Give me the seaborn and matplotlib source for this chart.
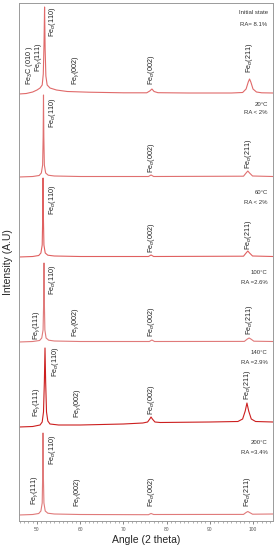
import matplotlib
matplotlib.use("Agg")
import matplotlib.pyplot as plt
import seaborn as sns
import pandas as pd
from matplotlib.ticker import MultipleLocator

# XRD patterns (angle 2theta, intensity above own baseline, A.U.)
initial_angle = [45.83, 47.5, 49.0, 50.0, 50.7, 51.2, 51.45, 51.62, 51.75, 51.88, 52.05, 52.35,
                 53.0, 54.5, 57.0, 62.0, 70.0, 75.4, 76.1, 76.6, 77.1, 78.0, 85.0, 95.0,
                 97.6, 98.4, 98.9, 99.2, 99.5, 100.0, 100.8, 102.0, 104.6]
initial_int = [0, 0.5, 2, 4, 6, 9, 20, 50, 87, 45, 18, 9,
               6, 4, 2.5, 1.8, 1.2, 1.2, 3, 5, 2.5, 1.3, 1, 1,
               1.5, 5, 12, 15, 12, 5, 2, 1.2, 1]

t20_angle = [45.83, 49.0, 50.5, 51.0, 51.3, 51.42, 51.5, 51.58, 51.7, 52.0, 52.6, 54.0, 60.0,
             75.8, 76.4, 77.0, 97.8, 98.4, 98.8, 99.2, 99.9, 104.6]
t20_int = [0, 0.5, 1.5, 4, 12, 40, 82, 40, 12, 4, 1.8, 1, 0.5,
           0.5, 2, 0.5, 0.8, 4, 6, 4, 1, 0.5]

t60_angle = [45.83, 49.0, 50.4, 50.9, 51.2, 51.32, 51.4, 51.48, 51.6, 51.9, 52.5, 54.0, 60.0,
             75.8, 76.4, 77.0, 97.8, 98.4, 98.8, 99.2, 99.9, 104.6]
t60_int = [0, 0.5, 1.5, 4, 12, 40, 79, 40, 12, 4, 1.8, 1, 0.5,
           0.5, 2, 0.5, 0.8, 4, 6, 4, 1, 0.5]

t100_angle = [45.83, 49.0, 50.6, 51.1, 51.4, 51.54, 51.62, 51.7, 51.82, 52.1, 52.7, 54.0, 60.0,
              76.0, 76.6, 77.2, 98.0, 98.7, 99.1, 99.5, 100.2, 104.6]
t100_int = [0, 0.5, 1.5, 4, 12, 40, 79, 40, 12, 4, 1.8, 1, 0.5,
            0.5, 2, 0.5, 0.6, 3, 4, 3, 0.8, 0.5]

t140_angle = [45.83, 49.0, 50.7, 51.2, 51.5, 51.7, 51.85, 52.0, 52.2, 52.5, 53.0, 55.0, 60.0,
              70.0, 74.5, 75.6, 76.1, 76.4, 76.7, 77.3, 78.5, 90.0, 96.5, 97.6, 98.2,
              98.6, 99.0, 99.6, 100.6, 104.6]
t140_int = [0, 0.5, 2, 5, 15, 45, 79, 45, 15, 6, 3, 2, 2,
            3, 4, 5, 8, 10, 8, 5, 4.5, 5, 5.5, 8, 16,
            24, 16, 8, 5.5, 5]

t200_angle = [45.83, 49.0, 50.4, 50.9, 51.2, 51.31, 51.39, 51.47, 51.6, 51.9, 52.5, 54.0, 60.0,
              75.8, 76.4, 77.0, 97.8, 98.4, 98.8, 99.2, 99.9, 104.6]
t200_int = [0, 0.5, 1.5, 4, 12, 40, 82, 40, 12, 4, 1.8, 1, 0.5,
            0.3, 1.5, 0.5, 0.6, 2.5, 3.5, 2.5, 0.8, 1]

samples = ["Initial", "20", "60", "100", "140", "200"]
offsets = [427, 344, 264, 179, 94, 6]
conditions = ["Initial state", "20°C", "60°C", "100°C", "140°C", "200°C"]
ra_values = ["RA= 8.1%", "RA < 2%", "RA < 2%", "RA =2.6%", "RA =2.9%", "RA =3.4%"]

patterns = [(initial_angle, initial_int), (t20_angle, t20_int), (t60_angle, t60_int),
            (t100_angle, t100_int), (t140_angle, t140_int), (t200_angle, t200_int)]

rows = []
for name, off, (ang, inten) in zip(samples, offsets, patterns):
    for a, i in zip(ang, inten):
        rows.append({"angle": a, "intensity": i + off, "sample": name})
df = pd.DataFrame(rows)

# peak labels per pattern: (text, angle, bottom of text)
A = r"Fe$_{\alpha}$"
G = r"Fe$_{\gamma}$"
peak_labels = [
    [(r"Fe$_3$C (010 )", 48.15, 436), (G + "(111)", 50.46, 449), (A + "(110)", 53.47, 484),
     (G + "(002)", 59.03, 436), (A + "(002)", 76.6, 436), (A + "(211)", 99.3, 448)],
    [(A + "(110)", 53.6, 393), (A + "(002)", 76.4, 348), (A + "(211)", 99.0, 352)],
    [(A + "(110)", 53.6, 306), (A + "(002)", 76.4, 268), (A + "(211)", 99.0, 271)],
    [(A + "(110)", 53.7, 226), (G + "(111)", 50.0, 181), (G + "(002)", 59.0, 184),
     (A + "(002)", 76.4, 184), (A + "(211)", 99.3, 186)],
    [(A + "(110)", 54.2, 144), (G + "(111)", 49.8, 104), (G + "(002)", 59.3, 103),
     (A + "(002)", 76.6, 106), (A + "(211)", 98.8, 121)],
    [(A + "(110)", 53.5, 56), (G + "(111)", 49.5, 16), (G + "(002)", 59.5, 14),
     (A + "(002)", 76.4, 14), (A + "(211)", 98.8, 14)],
]
cond_y = [(508, 496), (417, 408), (329, 319), (248, 238), (169, 159), (79, 69)]

sns.set_style("white")
plt.rcParams["font.family"] = ["Liberation Sans", "DejaVu Sans"]
plt.rcParams["mathtext.fontset"] = "custom"
plt.rcParams["mathtext.rm"] = "Liberation Sans"
plt.rcParams["mathtext.it"] = "Liberation Sans:italic"

fig = plt.figure(figsize=(2.79, 5.5), dpi=100)
ax = fig.add_axes([19 / 279, 1 - 521 / 550, 254 / 279, 518 / 550])

palette = {"Initial": "#e06a6a", "20": "#e07070", "60": "#e06060", "100": "#e07a7a",
           "140": "#cc1f1f", "200": "#e07a7a"}
sns.lineplot(data=df, x="angle", y="intensity", hue="sample", palette=palette,
             estimator=None, sort=False, linewidth=0.8, legend=False, ax=ax)

for labels, (y1, y2), cond, ra in zip(peak_labels, cond_y, conditions, ra_values):
    for txt, xa, yb in labels:
        ax.text(xa, yb, txt, rotation=90, ha="center", va="bottom", fontsize=5.2, color="#222222")
    ax.text(103.4, y1, cond, ha="right", va="center", fontsize=4.3, color="#333333")
    ax.text(103.4, y2, ra, ha="right", va="center", fontsize=4.3, color="#333333")

ax.set_xlim(45.83, 104.63)
ax.set_ylim(0, 518)
ax.set_yticks([])
ax.set_xticks([50, 60, 70, 80, 90, 100])
ax.xaxis.set_minor_locator(MultipleLocator(1))
ax.tick_params(axis="x", which="major", length=2.5, width=0.5, labelsize=3.5, pad=2,
               colors="#555555", bottom=True)
ax.tick_params(axis="x", which="minor", length=1.3, width=0.4, colors="#777777", bottom=True)
for s in ax.spines.values():
    s.set_color("#9a9a9a")
    s.set_linewidth(0.7)

ax.set_xlabel("Angle (2 theta)", fontsize=7.5, labelpad=2)
ax.set_ylabel("Intensity (A.U)", fontsize=7.5, labelpad=4)

fig.savefig("out.png", dpi=100)
